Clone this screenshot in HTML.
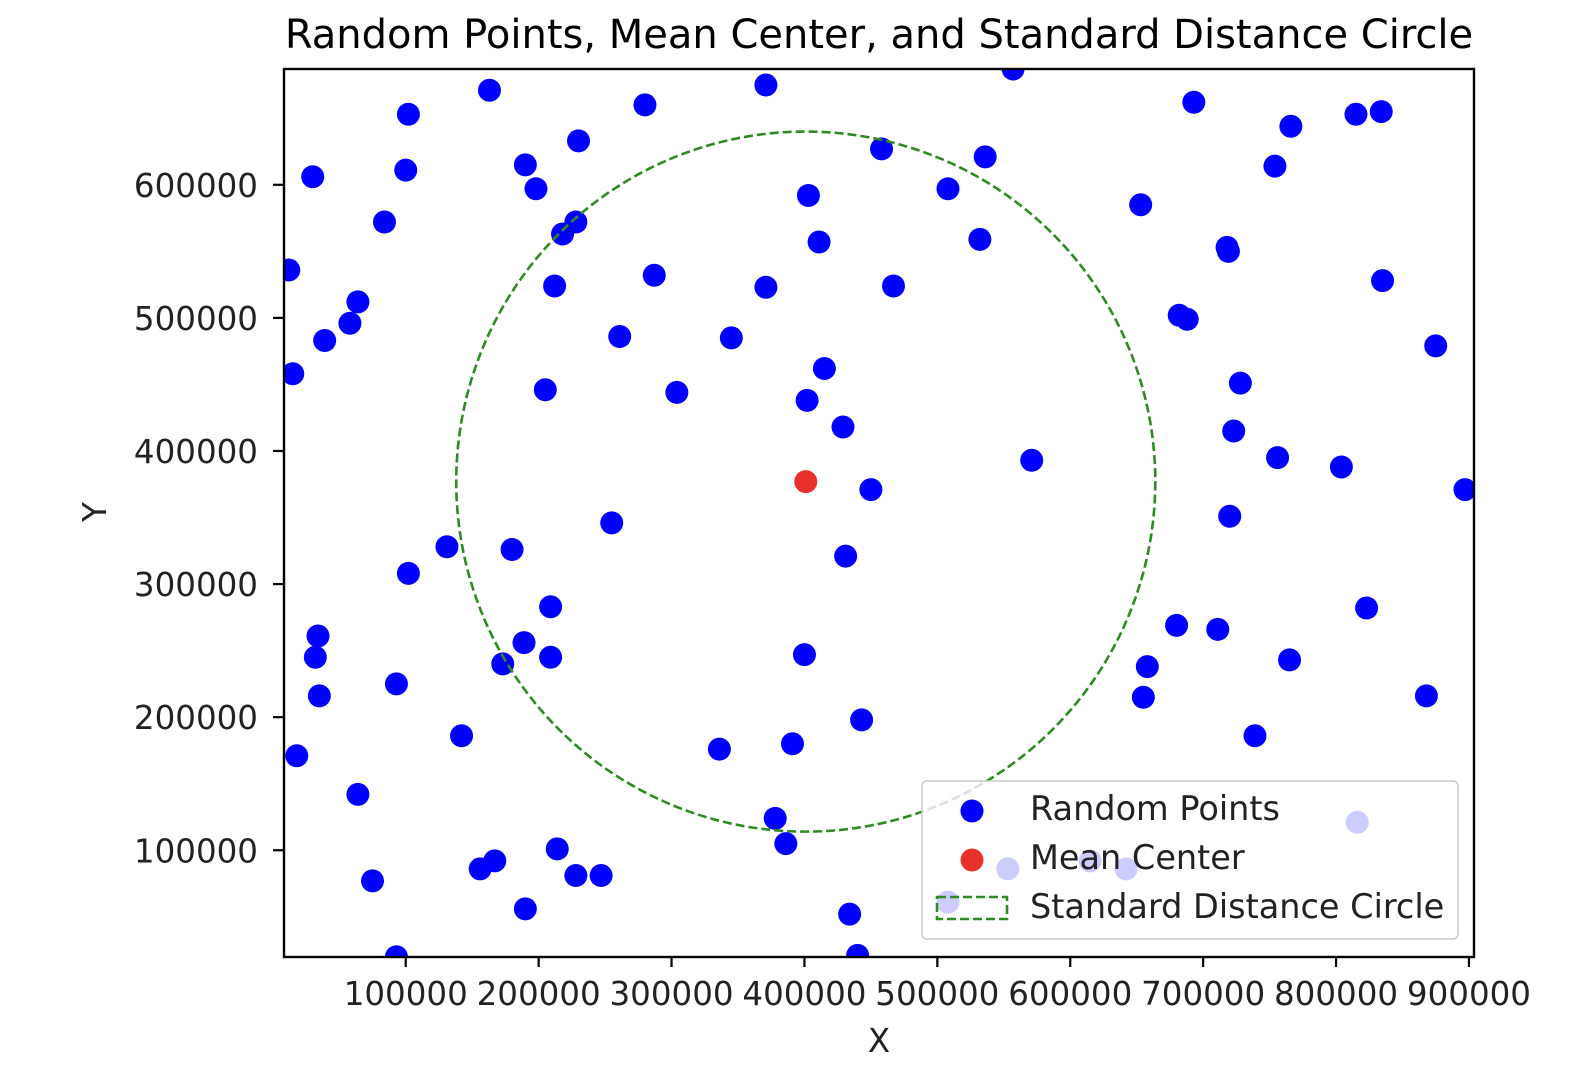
<!DOCTYPE html>
<html><head><meta charset="utf-8"><style>
html,body{margin:0;padding:0;background:#fff;}
svg{display:block;font-family:"DejaVu Sans","Liberation Sans",sans-serif;}
</style></head><body>
<svg id="chart" width="1592" height="1078" viewBox="0 0 1592 1078"></svg>
<script>
const xs = [557,371,163,280,102,693,815,834,766,230,458,536,754,190,30,100,198,403,508,84,228,218,411,532,653,718,719,12,287,212,371,467,835,64,58,39,261,345,682,688,875,15,415,728,205,304,402,429,723,756,571,804,897,450,720,255,131,180,431,102,209,823,34,680,711,32,209,189,173,400,658,765,35,93,655,868,443,142,739,336,391,18,64,378,386,214,167,156,75,228,247,190,434,93,440,816,553,615,642,508].map(v=>v*1000);
const ys = [687,675,671,660,653,662,653,655,644,633,627,621,614,615,606,611,597,592,597,572,572,563,557,559,585,553,550,536,532,524,523,524,528,512,496,483,486,485,502,499,479,458,462,451,446,444,438,418,415,395,393,388,371,371,351,346,328,326,321,308,283,282,261,269,266,245,245,256,240,247,238,243,216,225,215,216,198,186,186,176,180,171,142,124,105,101,92,86,77,81,81,56,52,20,21,121,86,92,86,61].map(v=>v*1000);
const meanCenter = [401000, 377000];
const stdDistance = [263000];
const xTicks = [100000,200000,300000,400000,500000,600000,700000,800000,900000];
const yTicks = [100000,200000,300000,400000,500000,600000];
const xDomain = [8400, 903800];
const yDomain = [19800, 687000];

const L=284,R=1474,T=69,B=957;
const NS="http://www.w3.org/2000/svg";
const svg=document.getElementById('chart');
function sx(v){return L+(v-xDomain[0])/(xDomain[1]-xDomain[0])*(R-L);}
function sy(v){return B-(v-yDomain[0])/(yDomain[1]-yDomain[0])*(B-T);}
function mk(tag,attrs,parent){const e=document.createElementNS(NS,tag);for(const k in attrs)e.setAttribute(k,attrs[k]);(parent||svg).appendChild(e);return e;}

let t=mk('text',{x:(L+R)/2,y:48,'text-anchor':'middle','font-size':'40','fill':'#000'});
t.textContent='Random Points, Mean Center, and Standard Distance Circle';



const defs=mk('defs',{});
const cp=mk('clipPath',{id:'clip'},defs);
mk('rect',{x:L,y:T,width:R-L,height:B-T},cp);
const plot=mk('g',{'clip-path':'url(#clip)'});



for(let i=0;i<xs.length;i++){
  const c=mk('circle',{cx:sx(xs[i]),cy:sy(ys[i]),r:11.5,fill:'#0000ff'},plot);
  
  
}
const mc=mk('circle',{cx:sx(meanCenter[0]),cy:sy(meanCenter[1]),r:11.5,fill:'#e8312a'},plot);



const rx=stdDistance[0]/(xDomain[1]-xDomain[0])*(R-L);
const ry=stdDistance[0]/(yDomain[1]-yDomain[0])*(B-T);
const sd=mk('ellipse',{cx:sx(meanCenter[0]),cy:sy(meanCenter[1]),rx:rx,ry:ry,fill:'none',stroke:'#2e8b22','stroke-width':2.6,'stroke-dasharray':'9,4'},plot);



const fr=mk('rect',{x:L,y:T,width:R-L,height:B-T,fill:'none',stroke:'#000','stroke-width':2.4});



for(const v of xTicks){
  const x=sx(v);
  mk('line',{x1:x,y1:B,x2:x,y2:B+10,stroke:'#000','stroke-width':2.2});
  const tl=mk('text',{x:x,y:1005,'text-anchor':'middle','font-size':'32.5',fill:'#222'});
  tl.textContent=String(v);
  
  
}
for(const v of yTicks){
  const y=sy(v);
  mk('line',{x1:L-11,y1:y,x2:L,y2:y,stroke:'#000','stroke-width':2.2});
  const tl=mk('text',{x:258,y:y+12,'text-anchor':'end','font-size':'32.5',fill:'#222'});
  tl.textContent=String(v);
  
  
}
let xl=mk('text',{x:(L+R)/2,y:1052,'text-anchor':'middle','font-size':'32.5',fill:'#222'});
xl.textContent='X';


let yl=mk('text',{x:0,y:0,'text-anchor':'middle','font-size':'32.5',fill:'#222',transform:'translate(106,512) rotate(-90)'});
yl.textContent='Y';



const lg=mk('g',{});


mk('rect',{x:922,y:781,width:536,height:158,rx:5,fill:'#fff','fill-opacity':0.8,stroke:'#ccc','stroke-width':1.5},lg);
mk('circle',{cx:972,cy:811,r:11.5,fill:'#0000ff'},lg);
mk('circle',{cx:972,cy:860,r:11.5,fill:'#e8312a'},lg);
mk('rect',{x:937,y:897,width:70,height:22,fill:'none',stroke:'#2e8b22','stroke-width':2.6,'stroke-dasharray':'9,4'},lg);
const labels=['Random Points','Mean Center','Standard Distance Circle'];
const ly=[820,869,918];
for(let i=0;i<3;i++){
  const e=mk('text',{x:1030,y:ly[i],'font-size':'33.5',fill:'#222'},lg);
  e.textContent=labels[i];
  
  
}
</script>
</body></html>
